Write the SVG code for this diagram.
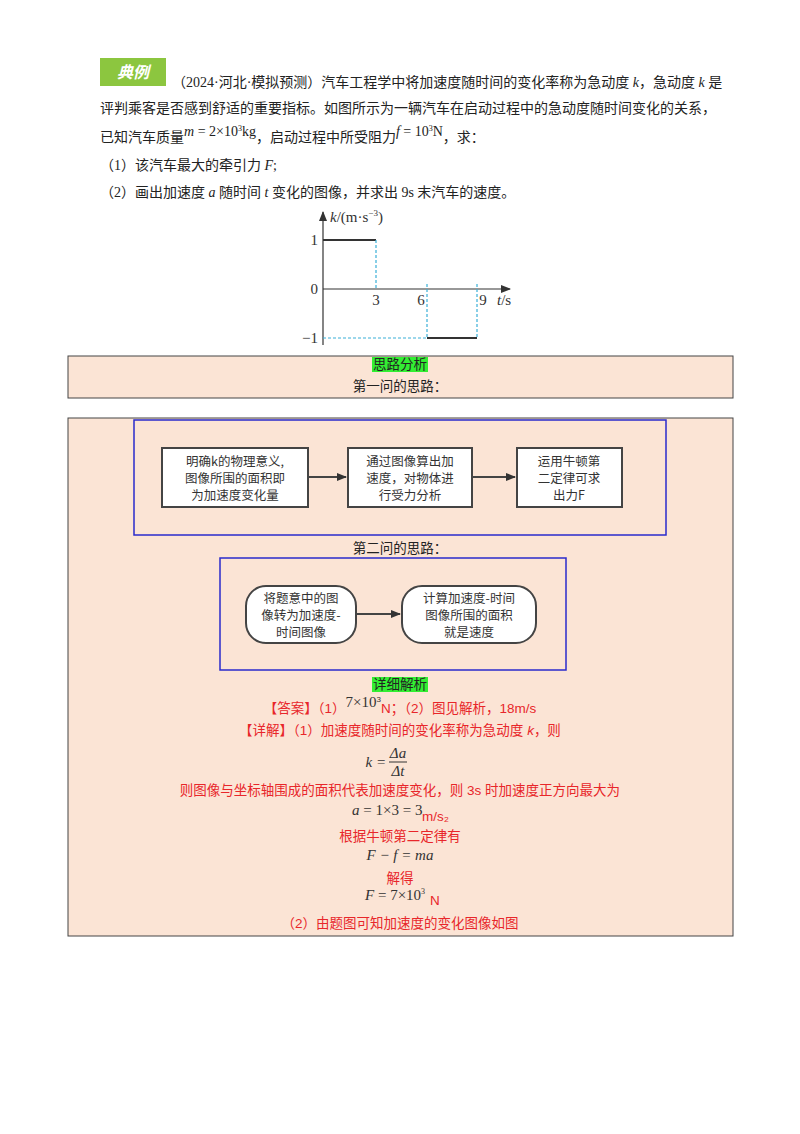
<svg xmlns="http://www.w3.org/2000/svg" width="800" height="1134" viewBox="0 0 800 1134">
<style>
.t{font-family:"Liberation Serif","Noto Sans CJK SC",serif;font-size:14px;fill:#222}
.r{font-family:"Liberation Sans","Noto Sans CJK SC",sans-serif;font-size:13.5px;fill:#e8262a;text-anchor:middle}
.m{font-family:"Liberation Serif",serif;font-style:italic;font-size:15px;fill:#333}
.n{font-family:"Liberation Serif",serif;font-size:15px;fill:#333}
.c{font-family:"Liberation Serif","Noto Sans CJK SC",serif;font-size:13.5px;fill:#222;text-anchor:middle}
.b{font-family:"Noto Sans CJK SC",sans-serif;font-size:12.5px;fill:#333;text-anchor:middle}
.blue{fill:none;stroke:#2a2acc;stroke-width:1.5}
.node{fill:#fff;stroke:#444;stroke-width:2}
.ax{fill:none;stroke:#333;stroke-width:1.2}
.dash{fill:none;stroke:#3ab0d8;stroke-width:1.2;stroke-dasharray:3,2}
</style>
<defs>
<marker id="ah" markerWidth="10" markerHeight="8" refX="9" refY="4" orient="auto" markerUnits="userSpaceOnUse"><path d="M0,0 L10,4 L0,8 z" fill="#333"/></marker>
</defs>
<rect width="800" height="1134" fill="#fff"/>
<rect x="100" y="58" width="66" height="28" fill="#8cc63f"/>
<text x="133" y="78" font-family="Noto Sans CJK SC,sans-serif" font-size="16" font-weight="bold" font-style="italic" fill="#fff" text-anchor="middle">典例</text>
<text class="t" x="172" y="87">（2024·河北·模拟预测）汽车工程学中将加速度随时间的变化率称为急动度 <tspan font-style="italic">k</tspan>，急动度 <tspan font-style="italic">k</tspan> 是</text>
<text class="t" x="100" y="113">评判乘客是否感到舒适的重要指标。如图所示为一辆汽车在启动过程中的急动度随时间变化的关系，</text>
<text class="t" x="100" y="142">已知汽车质量<tspan font-style="italic" dy="-6">m</tspan> = 2×10<tspan font-size="8" dy="-5">3</tspan><tspan dy="5">kg</tspan><tspan dy="6">，启动过程中所受阻力</tspan><tspan font-style="italic" dy="-6">f</tspan> = 10<tspan font-size="8" dy="-5">3</tspan><tspan dy="5">N</tspan><tspan dy="6">，求：</tspan></text>
<text class="t" x="100" y="170">（1）该汽车最大的牵引力 <tspan font-style="italic">F</tspan>;</text>
<text class="t" x="100" y="197">（2）画出加速度 <tspan font-style="italic">a</tspan> 随时间 <tspan font-style="italic">t</tspan> 变化的图像，并求出 9s 末汽车的速度。</text>
<g id="chart">
<line class="ax" x1="323" y1="345" x2="323" y2="212" marker-end="url(#ah)"/>
<line class="ax" x1="323" y1="289" x2="510" y2="289" marker-end="url(#ah)"/>
<line x1="323" y1="240" x2="376" y2="240" stroke="#333" stroke-width="2"/>
<line x1="427" y1="338" x2="477" y2="338" stroke="#333" stroke-width="2"/>
<line class="dash" x1="376" y1="240" x2="376" y2="289"/>
<line class="dash" x1="427" y1="284" x2="427" y2="338"/>
<line class="dash" x1="477" y1="284" x2="477" y2="338"/>
<line class="dash" x1="323" y1="338" x2="427" y2="338"/>
<text class="n" x="330" y="222"><tspan font-style="italic">k</tspan>/(m·s<tspan font-size="9" dy="-6">−3</tspan><tspan dy="6">)</tspan></text>
<text class="n" x="318" y="245" text-anchor="end">1</text>
<text class="n" x="318" y="294" text-anchor="end">0</text>
<text class="n" x="318" y="343" text-anchor="end">−1</text>
<text class="n" x="376" y="305" text-anchor="middle">3</text>
<text class="n" x="421" y="305" text-anchor="middle">6</text>
<text class="n" x="483" y="305" text-anchor="middle">9</text>
<text class="n" x="497" y="305"><tspan font-style="italic">t</tspan>/s</text>
</g>
<rect x="68" y="356" width="665" height="42" fill="#fbe4d5" stroke="#444" stroke-width="1"/>
<rect x="372" y="357" width="56" height="15" fill="#33ee33"/>
<text class="c" x="400" y="369">思路分析</text>
<text class="c" x="400" y="391">第一问的思路：</text>
<rect x="68" y="418" width="665" height="518" fill="#fbe4d5" stroke="#444" stroke-width="1"/>
<rect class="blue" x="134" y="420" width="532" height="115"/>
<g id="n1"><rect class="node" x="162" y="448" width="146" height="59"/>
<text class="b" x="235" y="466">明确k的物理意义,</text><text class="b" x="235" y="483">图像所围的面积即</text><text class="b" x="235" y="500">为加速度变化量</text></g>
<g id="n2"><rect class="node" x="348" y="448" width="124" height="59"/>
<text class="b" x="410" y="466">通过图像算出加</text><text class="b" x="410" y="483">速度，对物体进</text><text class="b" x="410" y="500">行受力分析</text></g>
<g id="n3"><rect class="node" x="517" y="448" width="105" height="59"/>
<text class="b" x="569" y="466">运用牛顿第</text><text class="b" x="569" y="483">二定律可求</text><text class="b" x="569" y="500">出力F</text></g>
<text class="c" x="400" y="553">第二问的思路：</text>
<rect class="blue" x="220" y="558" width="346" height="112"/>
<g id="n4"><rect class="node" x="246" y="586" width="110" height="57" rx="20"/>
<text class="b" x="301" y="603">将题意中的图</text><text class="b" x="301" y="620">像转为加速度-</text><text class="b" x="301" y="637">时间图像</text></g>
<g id="n5"><rect class="node" x="402" y="586" width="134" height="57" rx="20"/>
<text class="b" x="469" y="603">计算加速度-时间</text><text class="b" x="469" y="620">图像所围的面积</text><text class="b" x="469" y="637">就是速度</text></g>
<g id="connectors" stroke="#444" stroke-width="2">
<line x1="308" y1="477" x2="346" y2="477" marker-end="url(#ah)"/>
<line x1="472" y1="477" x2="515" y2="477" marker-end="url(#ah)"/>
<line x1="356" y1="614" x2="400" y2="614" marker-end="url(#ah)"/>
</g>
<rect x="372" y="677" width="56" height="15" fill="#33ee33"/>
<text class="c" x="400" y="689">详细解析</text>
<text class="r" x="400" y="713">【答案】（1）<tspan class="n" style="fill:#333" dy="-6">7×10</tspan><tspan font-size="8" fill="#333" dy="-5">3</tspan><tspan dy="11">N；（2）图见解析，18m/s</tspan></text>
<text class="r" x="400" y="735">【详解】（1）加速度随时间的变化率称为急动度 <tspan font-style="italic">k</tspan>，则</text>
<text class="m" x="386" y="767" text-anchor="end">k =</text>
<text class="m" x="398" y="758" text-anchor="middle">Δa</text>
<line x1="389" y1="762" x2="407" y2="762" stroke="#333"/>
<text class="m" x="398" y="776" text-anchor="middle">Δt</text>
<text class="r" x="400" y="795">则图像与坐标轴围成的面积代表加速度变化，则 3s 时加速度正方向最大为</text>
<text class="m" x="352" y="815"><tspan>a</tspan><tspan font-style="normal"> = 1×3 = 3</tspan></text>
<text class="r" x="422" y="821" style="text-anchor:start">m/s₂</text>
<text class="r" x="400" y="841">根据牛顿第二定律有</text>
<text class="m" x="400" y="860" text-anchor="middle">F − f = ma</text>
<text class="r" x="400" y="883">解得</text>
<text class="m" x="365" y="900"><tspan>F</tspan><tspan font-style="normal"> = 7×10</tspan><tspan font-style="normal" font-size="8" dy="-6">3</tspan></text>
<text class="r" x="430" y="905" style="text-anchor:start">N</text>
<text class="r" x="400" y="928">（2）由题图可知加速度的变化图像如图</text>
</svg>
